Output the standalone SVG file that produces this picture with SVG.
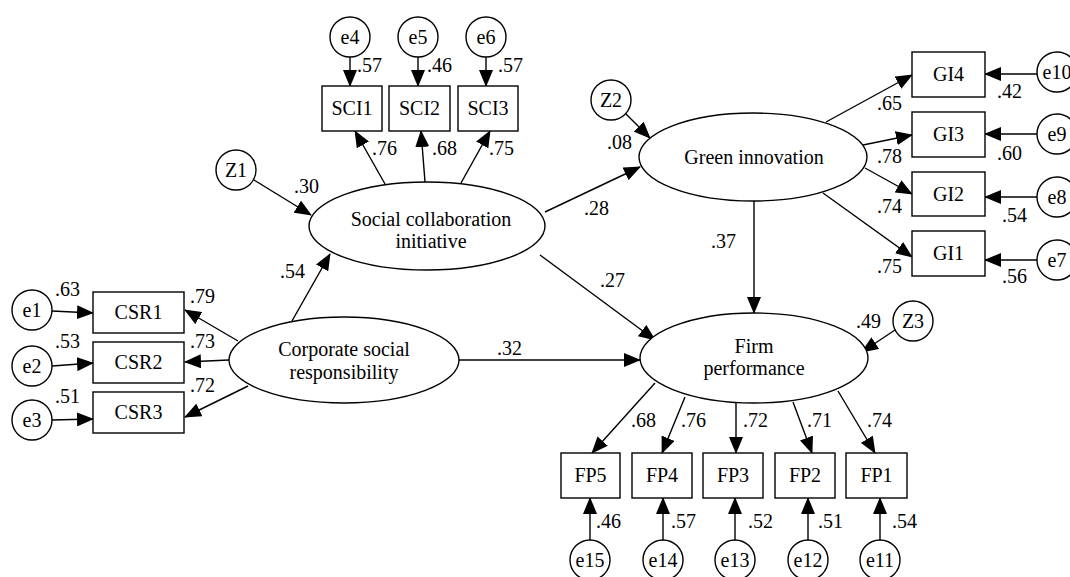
<svg xmlns="http://www.w3.org/2000/svg" width="1070" height="577" viewBox="0 0 1070 577" font-family="'Liberation Serif', 'DejaVu Serif', serif" font-size="20">
<defs>
<marker id="ah" markerUnits="userSpaceOnUse" markerWidth="18" markerHeight="14" refX="16" refY="7" orient="auto">
<path d="M0,0 L17,7 L0,14 Z" fill="#000"/>
</marker>
<style type="text/css">
.n{fill:#fff;stroke:#000;stroke-width:1.4}
.c{text-anchor:middle}
.l{stroke:#000;stroke-width:1.4;fill:none;marker-end:url(#ah)}
</style>
</defs>
<rect width="1070" height="577" fill="#fff"/>
<g id="connectors">
<line class="l" x1="52" y1="311" x2="93" y2="313"/>
<line class="l" x1="52" y1="366" x2="93" y2="363"/>
<line class="l" x1="52" y1="420" x2="93" y2="419"/>
<line class="l" x1="238" y1="341" x2="185" y2="310"/>
<line class="l" x1="229" y1="360" x2="185" y2="362"/>
<line class="l" x1="248" y1="386" x2="185" y2="417"/>
<line class="l" x1="292" y1="321" x2="330" y2="254"/>
<line class="l" x1="254" y1="180" x2="311" y2="215"/>
<line class="l" x1="385" y1="184" x2="355" y2="131"/>
<line class="l" x1="425" y1="182" x2="421" y2="131"/>
<line class="l" x1="461" y1="183" x2="490" y2="131"/>
<line class="l" x1="350" y1="57" x2="350" y2="86"/>
<line class="l" x1="418" y1="57" x2="418" y2="86"/>
<line class="l" x1="486" y1="57" x2="486" y2="86"/>
<line class="l" x1="545" y1="212" x2="640" y2="167"/>
<line class="l" x1="540" y1="255" x2="655" y2="340"/>
<line class="l" x1="459" y1="360" x2="640" y2="360"/>
<line class="l" x1="754" y1="201" x2="754" y2="313"/>
<line class="l" x1="626" y1="114" x2="650" y2="138"/>
<line class="l" x1="826" y1="122" x2="912" y2="75"/>
<line class="l" x1="863" y1="145" x2="912" y2="135"/>
<line class="l" x1="865" y1="168" x2="912" y2="194"/>
<line class="l" x1="823" y1="193" x2="912" y2="257"/>
<line class="l" x1="1037" y1="74" x2="985" y2="74"/>
<line class="l" x1="1037" y1="134" x2="985" y2="134"/>
<line class="l" x1="1037" y1="197" x2="985" y2="197"/>
<line class="l" x1="1037" y1="260" x2="985" y2="260"/>
<line class="l" x1="895" y1="330" x2="862" y2="352"/>
<line class="l" x1="655" y1="383" x2="592" y2="453"/>
<line class="l" x1="685" y1="397" x2="662" y2="453"/>
<line class="l" x1="736" y1="403" x2="736" y2="453"/>
<line class="l" x1="793" y1="402" x2="812" y2="453"/>
<line class="l" x1="838" y1="391" x2="875" y2="453"/>
<line class="l" x1="590" y1="540" x2="590" y2="498"/>
<line class="l" x1="663" y1="540" x2="663" y2="498"/>
<line class="l" x1="735" y1="540" x2="735" y2="498"/>
<line class="l" x1="808" y1="540" x2="808" y2="498"/>
<line class="l" x1="880" y1="540" x2="880" y2="498"/>
</g>
<g id="labels">
<text x="55" y="296">.63</text>
<text x="55" y="348">.53</text>
<text x="55" y="403">.51</text>
<text x="190" y="303">.79</text>
<text x="190" y="348">.73</text>
<text x="190" y="392">.72</text>
<text x="280" y="278">.54</text>
<text x="294" y="193">.30</text>
<text x="372" y="155">.76</text>
<text x="432" y="155">.68</text>
<text x="489" y="155">.75</text>
<text x="357" y="72">.57</text>
<text x="427" y="72">.46</text>
<text x="498" y="72">.57</text>
<text x="607" y="149">.08</text>
<text x="584" y="215">.28</text>
<text x="711" y="248">.37</text>
<text x="600" y="287">.27</text>
<text x="497" y="355">.32</text>
<text x="877" y="110">.65</text>
<text x="877" y="163">.78</text>
<text x="877" y="213">.74</text>
<text x="877" y="273">.75</text>
<text x="997" y="98">.42</text>
<text x="997" y="160">.60</text>
<text x="1002" y="222">.54</text>
<text x="1002" y="283">.56</text>
<text x="856" y="328">.49</text>
<text x="631" y="427">.68</text>
<text x="681" y="427">.76</text>
<text x="743" y="427">.72</text>
<text x="807" y="427">.71</text>
<text x="867" y="427">.74</text>
<text x="596" y="528">.46</text>
<text x="671" y="528">.57</text>
<text x="748" y="528">.52</text>
<text x="818" y="528">.51</text>
<text x="892" y="528">.54</text>
</g>
<g id="sci"><ellipse class="n" cx="427" cy="226" rx="118" ry="44"/><text class="c" x="431" y="226">Social collaboration</text><text class="c" x="431" y="248">initiative</text></g>
<g id="csr"><ellipse class="n" cx="344" cy="360" rx="115" ry="43"/><text class="c" x="344" y="356">Corporate social</text><text class="c" x="344" y="379">responsibility</text></g>
<g id="gi"><ellipse class="n" cx="753" cy="157" rx="114" ry="44"/><text class="c" x="754" y="164">Green innovation</text></g>
<g id="fp"><ellipse class="n" cx="754" cy="358" rx="114" ry="45"/><text class="c" x="754" y="353">Firm</text><text class="c" x="754" y="375">performance</text></g>
<g id="CSR1"><rect class="n" x="93" y="292" width="91" height="41"/><text class="c" x="138.5" y="319">CSR1</text></g>
<g id="CSR2"><rect class="n" x="93" y="342" width="91" height="41"/><text class="c" x="138.5" y="369">CSR2</text></g>
<g id="CSR3"><rect class="n" x="93" y="392" width="91" height="41"/><text class="c" x="138.5" y="419">CSR3</text></g>
<g id="SCI1"><rect class="n" x="322" y="86" width="60" height="45"/><text class="c" x="352" y="115">SCI1</text></g>
<g id="SCI2"><rect class="n" x="389" y="86" width="61" height="45"/><text class="c" x="419.5" y="115">SCI2</text></g>
<g id="SCI3"><rect class="n" x="458" y="86" width="60" height="45"/><text class="c" x="488" y="115">SCI3</text></g>
<g id="GI4"><rect class="n" x="912" y="52" width="73" height="45"/><text class="c" x="948.5" y="81">GI4</text></g>
<g id="GI3"><rect class="n" x="912" y="112" width="73" height="45"/><text class="c" x="948.5" y="141">GI3</text></g>
<g id="GI2"><rect class="n" x="912" y="172" width="73" height="44"/><text class="c" x="948.5" y="201">GI2</text></g>
<g id="GI1"><rect class="n" x="912" y="231" width="73" height="45"/><text class="c" x="948.5" y="260">GI1</text></g>
<g id="FP5"><rect class="n" x="561" y="453" width="59" height="45"/><text class="c" x="590.5" y="482">FP5</text></g>
<g id="FP4"><rect class="n" x="632" y="453" width="60" height="45"/><text class="c" x="662" y="482">FP4</text></g>
<g id="FP3"><rect class="n" x="703" y="453" width="60" height="45"/><text class="c" x="733" y="482">FP3</text></g>
<g id="FP2"><rect class="n" x="775" y="453" width="60" height="45"/><text class="c" x="805" y="482">FP2</text></g>
<g id="FP1"><rect class="n" x="846" y="453" width="61" height="45"/><text class="c" x="876.5" y="482">FP1</text></g>
<g id="e1"><circle class="n" cx="32" cy="310" r="20"/><text class="c" x="32" y="317">e1</text></g>
<g id="e2"><circle class="n" cx="32" cy="366" r="20"/><text class="c" x="32" y="373">e2</text></g>
<g id="e3"><circle class="n" cx="32" cy="420" r="20"/><text class="c" x="32" y="427">e3</text></g>
<g id="e4"><circle class="n" cx="350" cy="37" r="20"/><text class="c" x="350" y="44">e4</text></g>
<g id="e5"><circle class="n" cx="418" cy="37" r="20"/><text class="c" x="418" y="44">e5</text></g>
<g id="e6"><circle class="n" cx="486" cy="37" r="20"/><text class="c" x="486" y="44">e6</text></g>
<g id="Z1"><circle class="n" cx="236" cy="170" r="20"/><text class="c" x="236" y="177">Z1</text></g>
<g id="Z2"><circle class="n" cx="611" cy="100" r="20"/><text class="c" x="611" y="107">Z2</text></g>
<g id="Z3"><circle class="n" cx="913" cy="321" r="20"/><text class="c" x="913" y="328">Z3</text></g>
<g id="e10"><circle class="n" cx="1057" cy="72" r="20"/><text class="c" x="1057" y="79">e10</text></g>
<g id="e9"><circle class="n" cx="1057" cy="134" r="20"/><text class="c" x="1057" y="141">e9</text></g>
<g id="e8"><circle class="n" cx="1057" cy="197" r="20"/><text class="c" x="1057" y="204">e8</text></g>
<g id="e7"><circle class="n" cx="1057" cy="260" r="20"/><text class="c" x="1057" y="267">e7</text></g>
<g id="e15"><circle class="n" cx="590" cy="560" r="20"/><text class="c" x="590" y="567">e15</text></g>
<g id="e14"><circle class="n" cx="663" cy="560" r="20"/><text class="c" x="663" y="567">e14</text></g>
<g id="e13"><circle class="n" cx="735" cy="560" r="20"/><text class="c" x="735" y="567">e13</text></g>
<g id="e12"><circle class="n" cx="808" cy="560" r="20"/><text class="c" x="808" y="567">e12</text></g>
<g id="e11"><circle class="n" cx="880" cy="560" r="20"/><text class="c" x="880" y="567">e11</text></g>
</svg>
